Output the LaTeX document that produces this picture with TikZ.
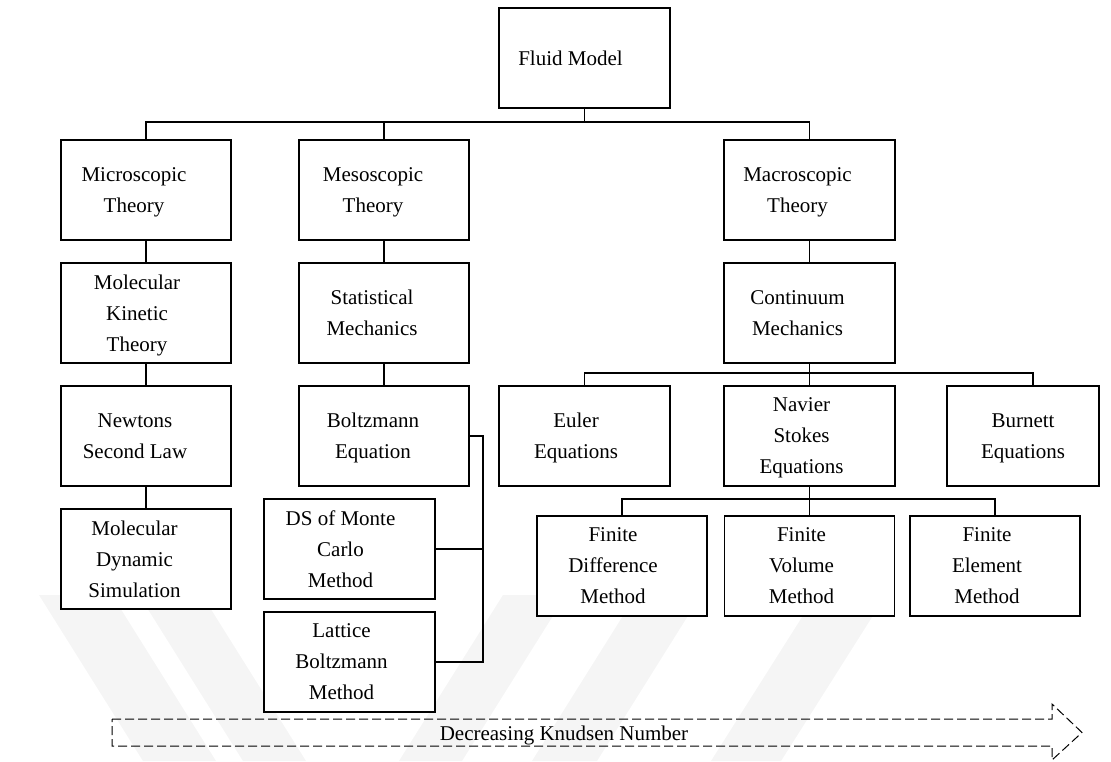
\documentclass[tikz,border=0pt]{standalone}
\usepackage{fontspec}
\setmainfont{Liberation Serif}
\tikzset{
  box/.style={draw, line width=1.1pt, fill=white, minimum width=171pt,
              minimum height=100pt, inner sep=0pt},
  lbl/.style={font=\fontsize{21pt}{31pt}\selectfont, align=center,
              inner sep=0pt, text depth=0pt},
  conn/.style={line width=1.1pt},
  band/.style={fill=black!4, draw=none},
  knudsen/.style={line width=1pt, dash pattern=on 9pt off 4pt, line join=miter}
}
\begin{document}
\begin{tikzpicture}[x=1pt,y=-1pt]
\useasboundingbox (0,0) rectangle (1111,761);

% faint background bands
\fill[band] (39,595) -- (112,595) -- (216,761) -- (143,761) -- cycle;
\fill[band] (139,595) -- (202,595) -- (306,761) -- (243,761) -- cycle;
\fill[band] (503,595) -- (566,595) -- (462,761) -- (399,761) -- cycle;
\fill[band] (636,595) -- (701,595) -- (597,761) -- (532,761) -- cycle;
\fill[band] (816,595) -- (886,595) -- (781,761) -- (711,761) -- cycle;

% root
\node[box] (fluid) at (584.5,58) {};
\node[lbl] (fluidT) at ([xshift=-14pt]fluid.center) {Fluid Model};

% level 1
\node[box, minimum width=170pt] (micro) at (146,190) {};
\node[lbl] (microT) at ([xshift=-12pt]micro.center) {Microscopic\\Theory};
\node[box, minimum width=170pt] (meso) at (384,190) {};
\node[lbl] (mesoT) at ([xshift=-11pt]meso.center) {Mesoscopic\\Theory};
\node[box] (macro) at (809.5,190) {};
\node[lbl] (macroT) at ([xshift=-12pt]macro.center) {Macroscopic\\Theory};

% level 2
\node[box, minimum width=170pt] (mkt) at (146,313) {};
\node[lbl] (mktT) at ([xshift=-9pt]mkt.center) {Molecular\\Kinetic\\Theory};
\node[box, minimum width=170pt] (stat) at (384,313) {};
\node[lbl] (statT) at ([xshift=-12pt]stat.center) {Statistical\\Mechanics};
\node[box] (cont) at (809.5,313) {};
\node[lbl] (contT) at ([xshift=-12pt]cont.center) {Continuum\\Mechanics};

% level 3
\node[box, minimum width=170pt] (newton) at (146,436) {};
\node[lbl] (newtonT) at ([xshift=-11pt]newton.center) {Newtons\\Second Law};
\node[box, minimum width=170pt] (boltz) at (384,436) {};
\node[lbl] (boltzT) at ([xshift=-11pt]boltz.center) {Boltzmann\\Equation};
\node[box] (euler) at (584.5,436) {};
\node[lbl] (eulerT) at ([xshift=-8.5pt]euler.center) {Euler\\Equations};
\node[box] (navier) at (809.5,436) {};
\node[lbl] (navierT) at ([xshift=-8pt]navier.center) {Navier\\Stokes\\Equations};
\node[box, minimum width=152pt] (burnett) at (1023,436) {};
\node[lbl] (burnettT) at (burnett.center) {Burnett\\Equations};

% level 4
\node[box, minimum width=170pt] (mds) at (146,559) {};
\node[lbl] (mdsT) at ([xshift=-11.5pt]mds.center) {Molecular\\Dynamic\\Simulation};
\node[box] (ds) at (349.5,549) {};
\node[lbl] (dsT) at ([xshift=-9pt]ds.center) {DS of Monte\\Carlo\\Method};
\node[box] (lattice) at (349.5,662) {};
\node[lbl] (latticeT) at ([xshift=-8pt]lattice.center) {Lattice\\Boltzmann\\Method};
\node[box, minimum width=170pt] (fd) at (622,566) {};
\node[lbl] (fdT) at ([xshift=-9pt]fd.center) {Finite\\Difference\\Method};
\node[box, minimum width=170pt] (fv) at (809.5,566) {};
\node[lbl] (fvT) at ([xshift=-8pt]fv.center) {Finite\\Volume\\Method};
\node[box, minimum width=170pt] (fe) at (995,566) {};
\node[lbl] (feT) at ([xshift=-8pt]fe.center) {Finite\\Element\\Method};

% tree connectors
\coordinate (bus1) at (584.5,122);
\draw[conn] (fluid.south) -- (bus1);
\draw[conn] (micro.north) |- (bus1) -| (macro.north);
\draw[conn] (meso.north) -- (meso.north |- bus1);

\draw[conn] (micro.south) -- (mkt.north);
\draw[conn] (mkt.south) -- (newton.north);
\draw[conn] (newton.south) -- (mds.north);

\draw[conn] (meso.south) -- (stat.north);
\draw[conn] (stat.south) -- (boltz.north);
\coordinate (brk) at (483,436);
\draw[conn] (boltz.east) -- (brk) -- (brk |- lattice.east) -- (lattice.east);
\draw[conn] (ds.east) -- (ds.east -| brk);

\draw[conn] (macro.south) -- (cont.north);
\coordinate (bus2) at (809.5,373);
\draw[conn] (cont.south) -- (navier.north);
\draw[conn] (euler.north) |- (bus2) -| ([xshift=10pt]burnett.north);

\coordinate (bus3) at (809.5,499);
\draw[conn] (navier.south) -- (fv.north);
\draw[conn] (fd.north) |- (bus3) -| (fe.north);

% Knudsen number trend arrow
\draw[knudsen] (112,719) -- (1052,719) -- (1052,704) -- (1082,732.5)
  -- (1052,760) -- (1052,746) -- (112,746) -- cycle;
\node[lbl] (knud) at (564,733.7) {Decreasing Knudsen Number};
\end{tikzpicture}
\end{document}
